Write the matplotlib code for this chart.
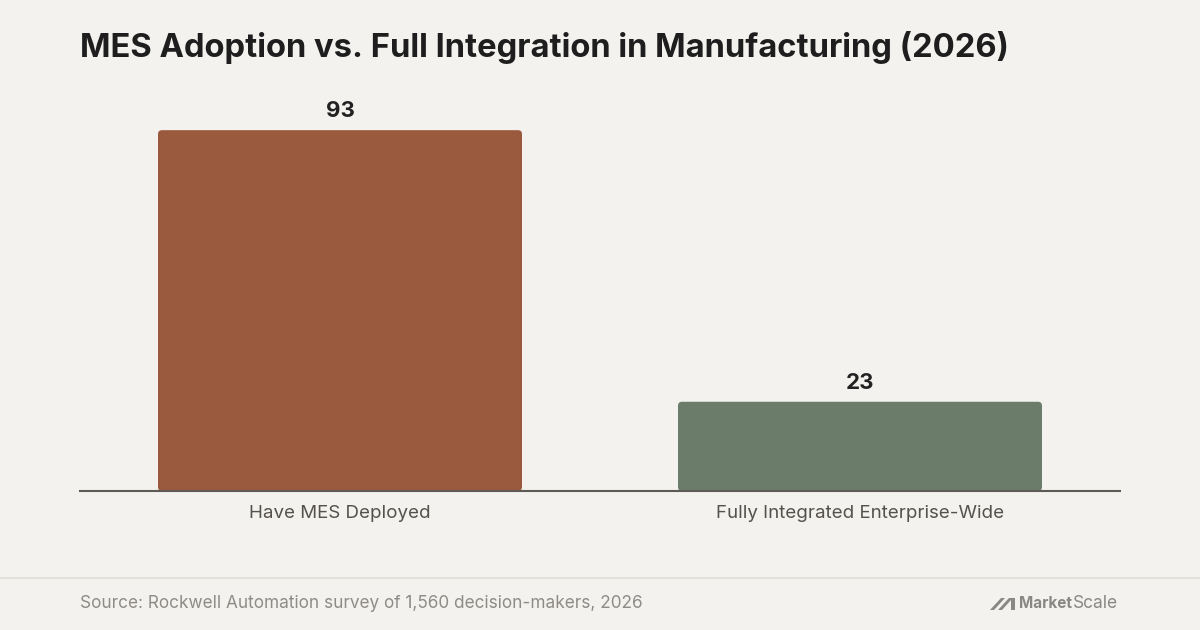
import matplotlib
matplotlib.use("Agg")
import matplotlib.pyplot as plt
from matplotlib.patches import FancyBboxPatch, Polygon
from matplotlib.lines import Line2D

# 데이터
categories = ["Have MES Deployed", "Fully Integrated Enterprise-Wide"]
values = [93, 23]
bar_colors = ["#9a5a3d", "#6b7c6a"]

title = "MES Adoption vs. Full Integration in Manufacturing (2026)"
source = "Source: Rockwell Automation survey of 1,560 decision-makers, 2026"

BG = "#f3f2ee"
plt.rcParams['font.family'] = ['Inter', 'DejaVu Sans']

W, H = 1200, 630
fig = plt.figure(figsize=(12, 6.3), dpi=100, facecolor=BG)

# 축 위치 (픽셀 기준)
left, right, bottom, top = 80, 1120, 491, 103
ax = fig.add_axes([left / W, 1 - bottom / H, (right - left) / W, (bottom - top) / H])
ax.set_facecolor(BG)
ax.set_xlim(-0.5, 1.5)
ax.set_ylim(0, 100)

bar_w = 0.7
px_x = 2.0 / (right - left)      # x 데이터 단위 / px
px_y = 100.0 / (bottom - top)    # y 데이터 단위 / px
for i, (v, c) in enumerate(zip(values, bar_colors)):
    patch = FancyBboxPatch((i - bar_w / 2, 0), bar_w, v,
                           boxstyle="round,pad=0,rounding_size=%f" % (4 * px_x),
                           mutation_aspect=px_y / px_x,
                           facecolor=c, edgecolor="none", zorder=2)
    ax.add_patch(patch)
    ax.text(i, v + 2.3, str(v), ha="center", va="bottom", fontsize=16,
            fontweight="bold", color="#222222")

for s in ["top", "right", "left"]:
    ax.spines[s].set_visible(False)
ax.spines["bottom"].set_color("#5e5a55")
ax.spines["bottom"].set_linewidth(1.5)
ax.spines["bottom"].set_zorder(3)
ax.set_yticks([])
ax.set_xticks(range(len(categories)))
ax.set_xticklabels(categories, fontsize=13.5, color="#55524d")
ax.tick_params(axis="x", length=0, pad=10)

# 제목
fig.text(80 / W, 1 - 48 / H, title, ha="left", va="center", fontsize=23.6,
         fontweight="bold", color="#1e1e1e")

# 하단 구분선과 출처
fig.add_artist(Line2D([0, 1], [1 - 578 / H, 1 - 578 / H], color="#e3e0db",
                      linewidth=1.5, transform=fig.transFigure))
fig.text(80 / W, 1 - 603 / H, source, ha="left", va="center", fontsize=12.4,
         color="#8f8c88")

# 로고
logo_c = "#8a8886"
fig.text(1073 / W, 1 - 604 / H, "Scale", ha="left", va="center",
         fontsize=12.5, color=logo_c)
fig.text(1072 / W, 1 - 604 / H, "Market", ha="right", va="center",
         fontsize=11.0, fontweight="bold", color=logo_c)

def px_poly(pts):
    return Polygon([(x / W, 1 - y / H) for x, y in pts], closed=True,
                   transform=fig.transFigure, facecolor=logo_c, edgecolor="none")

fig.add_artist(px_poly([(990, 610), (994, 610), (1005, 598), (1001, 598)]))
fig.add_artist(px_poly([(998, 610), (1002, 610), (1011, 600), (1011, 598), (1009, 598)]))
fig.add_artist(px_poly([(1011, 598), (1015, 598), (1015, 610), (1011, 610)]))

fig.savefig("out.png", dpi=100, facecolor=BG)
